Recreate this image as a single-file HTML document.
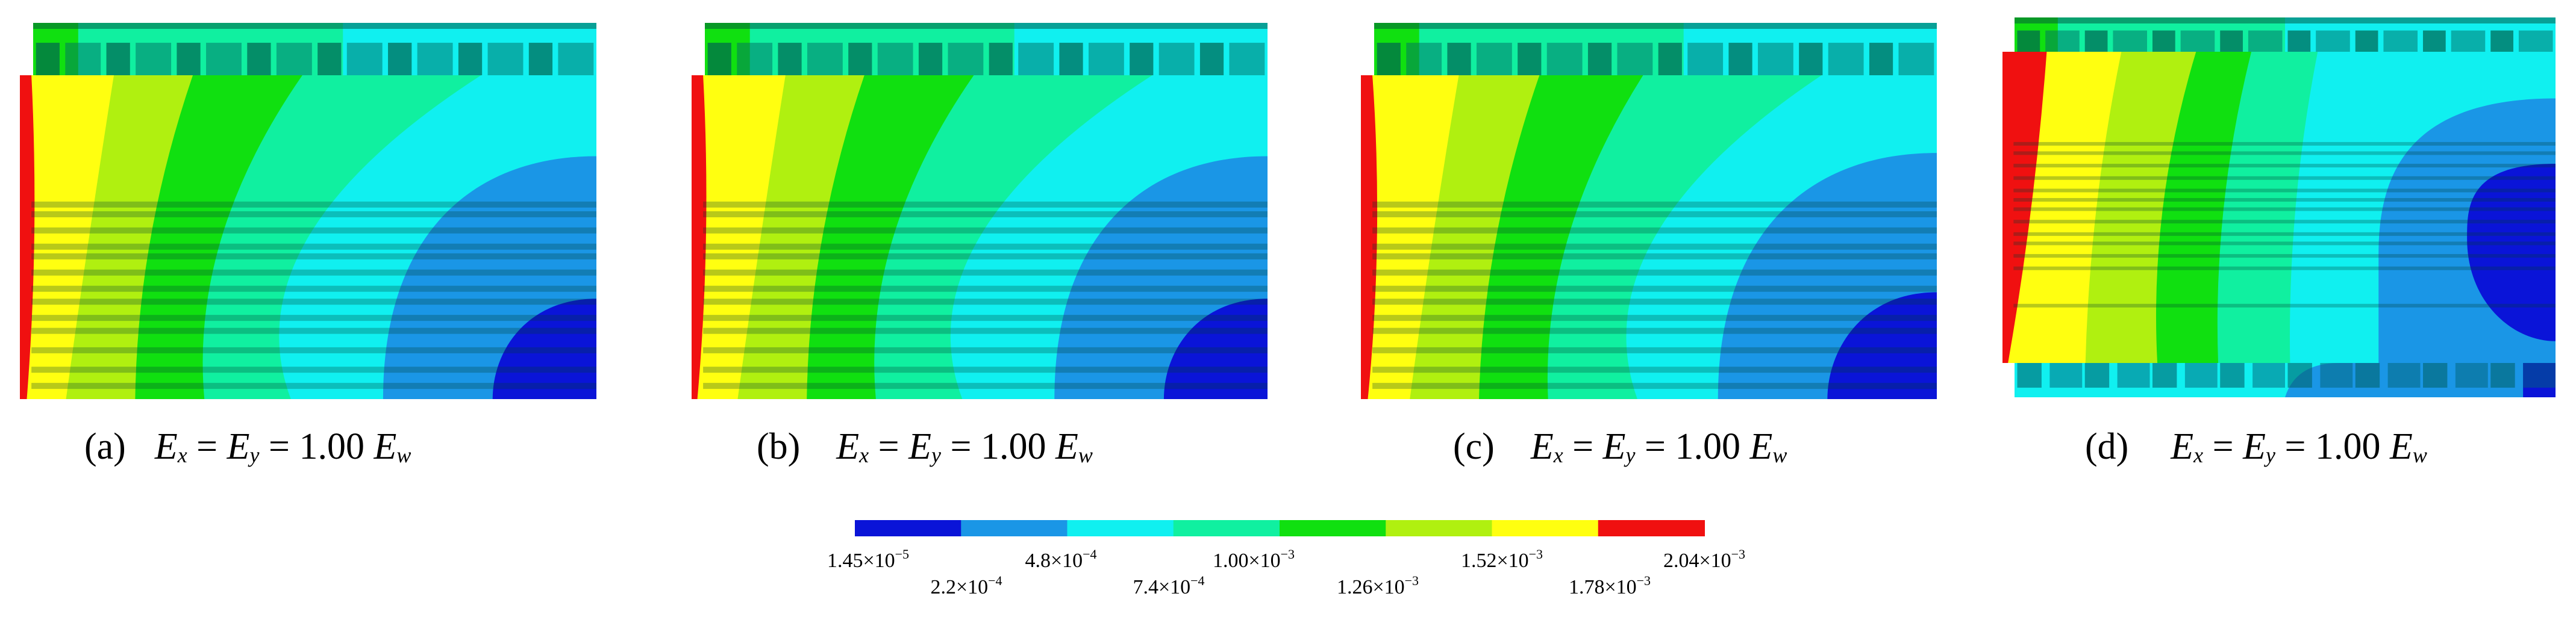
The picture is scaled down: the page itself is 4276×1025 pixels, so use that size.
<!DOCTYPE html>
<html><head><meta charset="utf-8"><style>
html,body{margin:0;padding:0;background:#fff;}
svg{display:block;}
</style></head><body>
<svg id="fig" width="4276" height="1025" viewBox="0 0 4276 1025" xmlns="http://www.w3.org/2000/svg" font-family="'Liberation Serif', serif"></svg>
<script>
const NS='http://www.w3.org/2000/svg';
const svg=document.getElementById('fig');
// colour levels (colorbar data)
const levelColors=['#0a14d8','#1a96e6','#10f0f0','#10f0a0','#10e010','#b0f010','#ffff10','#f01010'];
const levelLabelsTop=['1.45×10','4.8×10','1.00×10','1.52×10','2.04×10'];
const levelExpTop=['−5','−4','−3','−3','−3'];
const levelLabelsBot=['2.2×10','7.4×10','1.26×10','1.78×10'];
const levelExpBot=['−4','−4','−3','−3'];
const panelLetters=['a','b','c','d'];
// contour boundaries per panel: [top, mid, bottom] fraction of panel width
const bRed=[[0.02,0.025,0.012],[0.02,0.025,0.01],[0.02,0.028,0.012],[0.08,0.052,0.01]];
const bYellow=[[0.163,0.12,0.08],[0.163,0.12,0.08],[0.17,0.125,0.085],[0.215,0.17,0.15]];
const bYG=[[0.30,0.227,0.20],[0.30,0.227,0.20],[0.31,0.235,0.205],[0.35,0.29,0.28]];
const bGreen=[[0.49,0.35,0.32],[0.49,0.35,0.32],[0.49,0.36,0.325],[0.45,0.40,0.39]];
const bSG=[[0.80,0.50,0.47],[0.80,0.50,0.47],[0.80,0.51,0.48],[0.57,0.53,0.52]];
// [x at bottom / leftmost, y at right edge (top)] fractions
const blueStart=[[0.63,0.25],[0.63,0.25],[0.62,0.24],[0.68,0.15]];
const darkStart=[[0.82,0.69],[0.82,0.69],[0.81,0.67],[0.84,0.36]];

const geom=[
 {x:33,w:957,top:38,main:125,bot:663,lower:false,cap:140,gap:48},
 {x:1148,w:956,top:38,main:125,bot:663,lower:false,cap:1256,gap:60},
 {x:2259,w:956,top:38,main:125,bot:663,lower:false,cap:2412,gap:60},
 {x:3324,w:918,top:29,main:86,bot:603,lower:true,cap:3461,gap:70}
];
function el(tag,attrs,parent){const e=document.createElementNS(NS,tag);for(const k in attrs)e.setAttribute(k,attrs[k]);(parent||svg).appendChild(e);return e;}
function leftRegion(g,b,y0,y1){
  const X=f=>g.x+f*g.w, ym=(y0+y1)/2;
  const cx=2*X(b[1])-(X(b[0])+X(b[2]))/2;
  return `M${g.x},${y0} L${X(b[0])},${y0} Q${cx},${ym} ${X(b[2])},${y1} L${g.x},${y1} Z`;
}
geom.forEach((g,i)=>{
  const grp=el('g',{});
  
  
  const y0=g.main,y1=g.bot,H=y1-y0,R=g.x+g.w;
  const sx=g.x+(i===3?20:22), sw=R-sx;
  // top strip
  const st=el('g',{},grp);
  el('rect',{x:sx,y:g.top,width:sw,height:y0-g.top+3,fill:levelColors[2]},st);
  el('rect',{x:sx,y:g.top,width:sw*(i===3?0.5:0.55),height:y0-g.top+3,fill:levelColors[3]},st);
  el('rect',{x:sx,y:g.top,width:sw*0.08,height:y0-g.top+3,fill:levelColors[4]},st);
  el('rect',{x:sx,y:g.top,width:sw,height:10,fill:'rgba(0,80,60,0.5)'},st);
  const by=g.top+(y0-g.top)*0.38, bh=(y0-g.top)*0.7;
  for(let k=0;k<8;k++){
    const bx=sx+sw*(k*0.125);
    el('rect',{x:bx+sw*0.005,y:by,width:sw*0.042,height:bh,fill:'rgba(0,100,80,0.7)'},st);
    el('rect',{x:bx+sw*0.057,y:by,width:sw*0.063,height:bh,fill:'rgba(0,110,100,0.5)'},st);
  }
  // main contour
  el('rect',{x:g.x,y:y0,width:g.w,height:H,fill:levelColors[2]},grp);
  const bs=blueStart[i], ds=darkStart[i];
  const bxp=g.x+bs[0]*g.w, dxp=g.x+ds[0]*g.w;
  if(i===3){
    el('path',{d:`M${R},${y0+bs[1]*H} C${bxp+0.05*g.w},${y0+bs[1]*H} ${bxp},${y0+0.4*H} ${bxp},${y0+0.65*H} C${bxp},${y1} ${bxp},${y1} ${bxp},${y1} L${R},${y1} Z`,fill:levelColors[1]},grp);
    el('path',{d:`M${R},${y0+ds[1]*H} C${dxp},${y0+ds[1]*H} ${dxp},${y0+0.5*H} ${dxp},${y0+0.6*H} C${dxp},${y0+0.8*H} ${dxp+0.08*g.w},${y0+0.93*H} ${R},${y0+0.93*H} Z`,fill:levelColors[0]},grp);
  } else {
    el('path',{d:`M${R},${y0+bs[1]*H} C${bxp+0.15*g.w},${y0+bs[1]*H} ${bxp},${y0+0.5*H} ${bxp},${y1} L${R},${y1} Z`,fill:levelColors[1]},grp);
    el('path',{d:`M${R},${y0+ds[1]*H} C${dxp+0.06*g.w},${y0+ds[1]*H} ${dxp},${y0+0.85*H} ${dxp},${y1} L${R},${y1} Z`,fill:levelColors[0]},grp);
  }
  [[bSG,3],[bGreen,4],[bYG,5],[bYellow,6],[bRed,7]].forEach(([arr,c])=>{
    el('path',{d:leftRegion(g,arr[i],y0,y1),fill:levelColors[c]},grp);
  });
  // horizontal stripes
  const fr=i===3?[0.29,0.32,0.36,0.40,0.44,0.47,0.50,0.54,0.58,0.61,0.65,0.69,0.81]:[0.39,0.42,0.47,0.52,0.55,0.60,0.65,0.69,0.74,0.78,0.84,0.9,0.95];
  fr.forEach(f=>el('rect',{x:g.x+g.w*0.02,y:y0+f*H,width:g.w*0.98,height:i===3?6:10,fill:'rgba(0,60,50,0.28)'},grp));
  if(g.lower){
    const ly=y1, lh=57;
    el('rect',{x:sx,y:ly,width:sw,height:lh,fill:levelColors[2]},grp);
    el('path',{d:`M${sx+sw*0.5},${ly+lh} Q${sx+sw*0.52},${ly} ${sx+sw*0.6},${ly} L${R},${ly} L${R},${ly+lh} Z`,fill:levelColors[1]},grp);
    el('rect',{x:R-sw*0.06,y:ly,width:sw*0.06,height:lh,fill:levelColors[0]},grp);
    for(let k=0;k<8;k++){
      const bx=sx+sw*(k*0.125);
      el('rect',{x:bx+sw*0.005,y:ly,width:sw*0.045,height:lh*0.72,fill:'rgba(0,100,110,0.6)'},grp);
      el('rect',{x:bx+sw*0.065,y:ly,width:sw*0.06,height:lh*0.72,fill:'rgba(0,100,120,0.5)'},grp);
    }
  }
  // caption
  const t=el('text',{x:g.cap,y:762,'font-size':62,fill:'#000'},grp);
  
  
  t.innerHTML=`(${panelLetters[i]})<tspan dx="${g.gap}" font-style="italic">E</tspan><tspan font-size="36" font-style="italic" dy="6">x</tspan><tspan dy="-6"> = </tspan><tspan font-style="italic">E</tspan><tspan font-size="36" font-style="italic" dy="6">y</tspan><tspan dy="-6"> = 1.00 </tspan><tspan font-style="italic">E</tspan><tspan font-size="36" font-style="italic" dy="6">w</tspan>`;
});
// colorbar
const cb=el('g',{});


const cbX=1419,cbW=1410,cbY=864,cbH=27;
levelColors.forEach((c,k)=>{
  const r=el('rect',{x:cbX+k*cbW/levelColors.length,y:cbY,width:cbW/levelColors.length+1,height:cbH,fill:c},cb);
  
  
});
const topX=[1441,1761,2081,2493,2829], botX=[1604,1940,2287,2672];
levelLabelsTop.forEach((s,k)=>{
  const t=el('text',{x:topX[k],y:942,'font-size':34,'text-anchor':'middle'},cb);
  
  
  t.innerHTML=`${s}<tspan font-size="22" dy="-14">${levelExpTop[k]}</tspan>`;
});
levelLabelsBot.forEach((s,k)=>{
  const t=el('text',{x:botX[k],y:986,'font-size':34,'text-anchor':'middle'},cb);
  
  
  t.innerHTML=`${s}<tspan font-size="22" dy="-14">${levelExpBot[k]}</tspan>`;
});
</script>
</body></html>
